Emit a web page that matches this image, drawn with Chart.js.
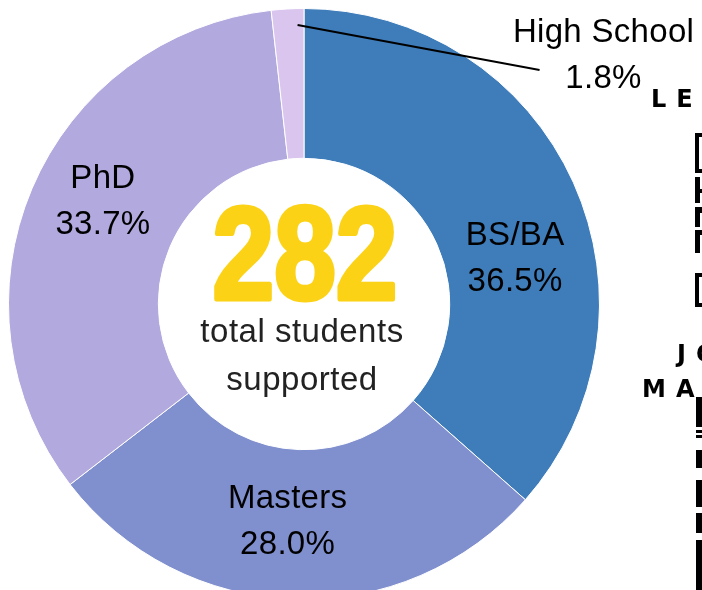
<!DOCTYPE html>
<html>
<head>
<meta charset="utf-8">
<script src="https://cdn.jsdelivr.net/npm/chart.js@4/dist/chart.umd.min.js"></script>
<style>
html, body { margin: 0; padding: 0; background: #fff; overflow: hidden; width: 702px; height: 590px; }
#wrap { position: relative; width: 702px; height: 608px; }
#chart { position: absolute; left: 0; top: 0; }
.side { position: absolute; font-family: 'DejaVu Sans', sans-serif; font-weight: bold; font-size: 24px; letter-spacing: 10px; color: #000; white-space: nowrap; line-height: 1; }
.blk { position: absolute; background: #000; }
.box { position: absolute; border: 4px solid #000; box-sizing: border-box; width: 20px; }
</style>
</head>
<body>
<div id="wrap">
  <canvas id="chart" width="702" height="608"></canvas>
  <!-- bits of the page next to the chart, cut off by the window -->
  <div class="side" style="left:651px; top:87px;">LEGEND</div>
  <div class="box" style="left:695px; top:133px; height:40px;"></div>
  <div class="blk" style="left:695px; top:177px; width:5px; height:26px;"></div>
  <div class="blk" style="left:695px; top:189px; width:10px; height:4px;"></div>
  <div class="blk" style="left:695px; top:207px; width:10px; height:6px;"></div>
  <div class="blk" style="left:695px; top:207px; width:5px; height:20px;"></div>
  <div class="blk" style="left:695px; top:230px; width:5px; height:23px;"></div>
  <div class="blk" style="left:695px; top:230px; width:10px; height:5px;"></div>
  <div class="box" style="left:695px; top:273px; height:34px;"></div>
  <div class="side" style="left:677px; top:342px;">JOBS</div>
  <div class="side" style="left:642px; top:377px;">MAJORS</div>
  <div class="blk" style="left:696px; top:397px; width:6px; height:30px;"></div>
  <div class="blk" style="left:696px; top:430px; width:6px; height:3px;"></div>
  <div class="blk" style="left:696px; top:435px; width:6px; height:3px;"></div>
  <div class="blk" style="left:696px; top:450px; width:6px; height:18px;"></div>
  <div class="blk" style="left:696px; top:480px; width:6px; height:27px;"></div>
  <div class="blk" style="left:696px; top:513px; width:6px; height:20px;"></div>
  <div class="blk" style="left:696px; top:540px; width:6px; height:50px;"></div>
</div>
<script>
// degree levels, going clockwise from 12 o'clock
const categories = ['BS/BA', 'Masters', 'PhD', 'High School'];
const studentCounts = [103, 79, 95, 5];
const sliceColors = ['#3e7cba', '#8090ce', '#b2a9df', '#dac5ee'];

const centerNumber = '282';
const centerLines = ['total students', 'supported'];

const totalStudents = studentCounts.reduce((a, b) => a + b, 0);

function pctText(i) {
    return (studentCounts[i] / totalStudents * 100).toFixed(1) + '%';
}

/**
 * Draws the name + percent of each slice, with a leader line for the small ones
 */
const sliceLabels = {
    id: 'sliceLabels',
    afterDatasetsDraw(chart, args, opts) {
        const ctx = chart.ctx;
        const meta = chart.getDatasetMeta(0);
        ctx.save();
        ctx.font = opts.font;
        ctx.letterSpacing = opts.letterSpacing;
        ctx.fillStyle = opts.color;
        ctx.textAlign = 'center';
        ctx.textBaseline = 'middle';
        meta.data.forEach((arc, i) => {
            const p = arc.getProps(['x', 'y', 'startAngle', 'endAngle', 'innerRadius', 'outerRadius'], true);
            const mid = (p.startAngle + p.endAngle) / 2;
            var cx, cy;
            if (opts.callout[i]) {
                // leader line from inside the slice out to the label
                const c = opts.callout[i];
                const r = p.outerRadius - c.inset;
                const sx = p.x + Math.cos(mid) * r + c.start[0];
                const sy = p.y + Math.sin(mid) * r + c.start[1];
                const ex = sx + c.line[0];
                const ey = sy + c.line[1];
                ctx.strokeStyle = '#000';
                ctx.lineWidth = 2;
                ctx.beginPath();
                ctx.moveTo(sx, sy);
                ctx.lineTo(ex, ey);
                ctx.stroke();
                cx = ex + c.label[0];
                cy = ey + c.label[1];
            } else {
                const r = (p.innerRadius + p.outerRadius) / 2;
                const n = opts.nudge[i] || [0, 0];
                cx = p.x + Math.cos(mid) * r + n[0];
                cy = p.y + Math.sin(mid) * r + n[1];
            }
            ctx.fillText(categories[i], cx, cy - opts.lineGap / 2);
            ctx.fillText(pctText(i), cx, cy + opts.lineGap / 2);
        });
        ctx.restore();
    }
};

/**
 * Big total in the hole of the doughnut
 */
const centerText = {
    id: 'centerText',
    afterDraw(chart, args, opts) {
        const ctx = chart.ctx;
        const arc = chart.getDatasetMeta(0).data[0];
        const x = arc.x, y = arc.y;
        ctx.save();
        ctx.textAlign = 'center';
        ctx.textBaseline = 'alphabetic';
        // squeeze the number so it reads like a condensed heavy face
        ctx.translate(x + 1, y - 5);
        ctx.scale(0.84, 1);
        ctx.font = 'bold 132px "Liberation Sans", Arial, sans-serif';
        ctx.fillStyle = '#fcd216';
        ctx.strokeStyle = '#fcd216';
        ctx.lineWidth = 5;
        ctx.lineJoin = 'round';
        ctx.fillText(centerNumber, 0, 0);
        ctx.strokeText(centerNumber, 0, 0);
        ctx.restore();

        ctx.save();
        ctx.textAlign = 'center';
        ctx.font = '33px "Liberation Sans", Arial, sans-serif';
        ctx.letterSpacing = '0.5px';
        ctx.fillStyle = '#222';
        ctx.fillText(centerLines[0], x - 2, y + 38);
        ctx.fillText(centerLines[1], x - 2, y + 86);
        ctx.restore();
    }
};

new Chart(document.getElementById('chart'), {
    type: 'doughnut',
    data: {
        labels: categories,
        datasets: [{
            data: studentCounts,
            backgroundColor: sliceColors,
            borderColor: '#ffffff',
            borderWidth: 1
        }]
    },
    options: {
        responsive: false,
        animation: false,
        cutout: '49.3%',
        layout: { padding: { left: 8, top: 8, bottom: 8, right: 102 } },
        plugins: {
            legend: { display: false },
            tooltip: { enabled: false },
            sliceLabels: {
                font: '33px "Liberation Sans", Arial, sans-serif',
                letterSpacing: '0.3px',
                color: '#000',
                lineGap: 46,
                nudge: [[10, 46], [-9, -3], [2, -16]],
                callout: [null, null, null, { inset: 18, start: [9, -2], line: [242, 45], label: [64, -14] }]
            }
        }
    },
    plugins: [sliceLabels, centerText]
});
</script>
</body>
</html>
